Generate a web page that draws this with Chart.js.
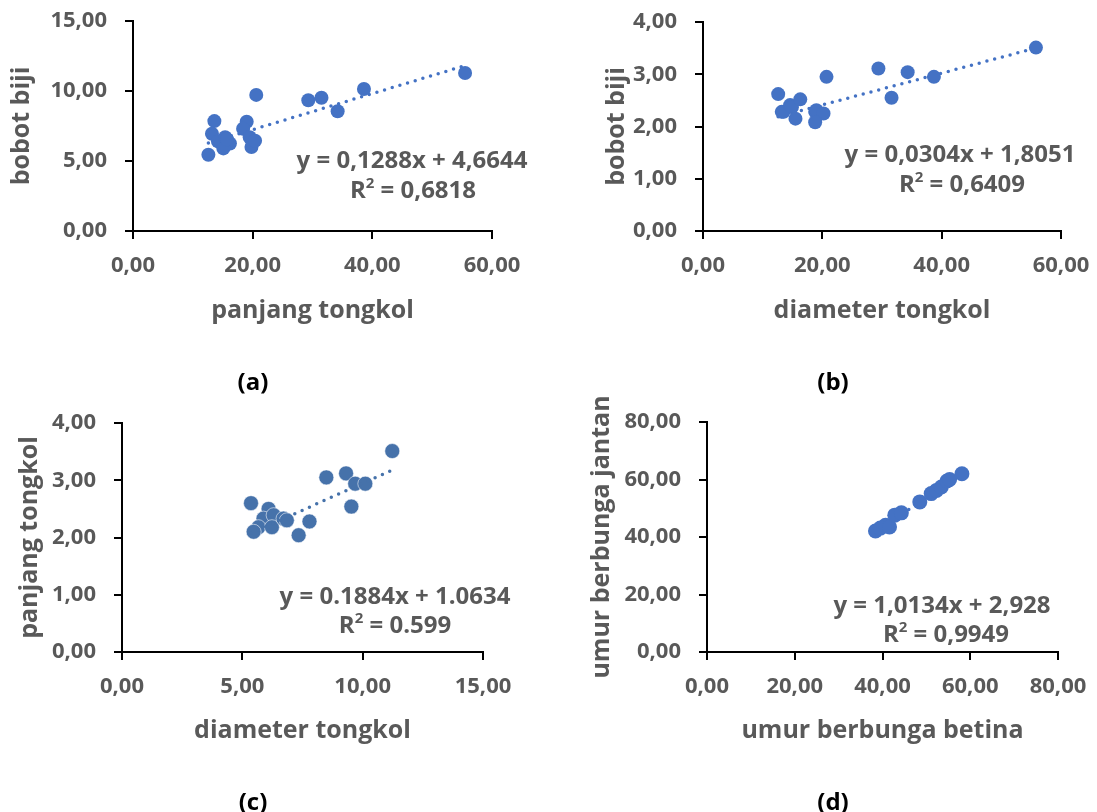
<!DOCTYPE html>
<html>
<head>
<meta charset="utf-8">
<script src="https://cdn.jsdelivr.net/npm/chart.js@4.4.1/dist/chart.umd.min.js"></script>
<style>
  html, body { margin:0; padding:0; background:#fff; }
  #wrap { position:relative; width:1097px; height:812px; overflow:hidden; background:#fff; }
  .pane { position:absolute; }
  .txt { position:absolute; transform:translate(-50%,-50%); white-space:nowrap;
         font-family:'Open Sans','Noto Sans',sans-serif; font-weight:700; }
  .eq { font-size:24px; color:#595959; }
  .cap { font-size:24px; color:#000; }
  sup { font-size:15px; vertical-align:10px; line-height:0; }
</style>
</head>
<body>
<div id="wrap">
  <div class="pane" style="left:0;top:0;"><canvas id="ca" width="548" height="340"></canvas></div>
  <div class="pane" style="left:549px;top:0;"><canvas id="cb" width="548" height="340"></canvas></div>
  <div class="pane" style="left:0;top:380px;"><canvas id="cc" width="548" height="420"></canvas></div>
  <div class="pane" style="left:549px;top:380px;"><canvas id="cd" width="548" height="420"></canvas></div>

  <div class="txt eq" style="left:412px;top:158px;">y = 0,1288x + 4,6644</div>
  <div class="txt eq" style="left:413px;top:188px;">R<sup>2</sup> = 0,6818</div>
  <div class="txt eq" style="left:960px;top:152px;">y = 0,0304x + 1,8051</div>
  <div class="txt eq" style="left:962px;top:182px;">R<sup>2</sup> = 0,6409</div>
  <div class="txt eq" style="left:395px;top:594px;">y = 0.1884x + 1.0634</div>
  <div class="txt eq" style="left:395px;top:623px;">R<sup>2</sup> = 0.599</div>
  <div class="txt eq" style="left:942px;top:603px;">y = 1,0134x + 2,928</div>
  <div class="txt eq" style="left:946px;top:632px;">R<sup>2</sup> = 0,9949</div>

  <div class="txt cap" style="left:253px;top:380px;">(a)</div>
  <div class="txt cap" style="left:833px;top:380px;">(b)</div>
  <div class="txt cap" style="left:253px;top:800px;">(c)</div>
  <div class="txt cap" style="left:833px;top:800px;">(d)</div>
</div>
<script>
// ---- data ----
// (a) panjang tongkol vs bobot biji
const aX = [12.6, 13.6, 13.2, 14.2, 15.4, 16.2, 15.1, 15.7, 19.0, 18.4, 19.5, 19.8, 20.4, 20.6, 29.3, 31.5, 34.2, 38.6, 55.5];
const aY = [5.45, 7.85, 6.95, 6.40, 6.70, 6.25, 5.90, 6.55, 7.80, 7.30, 6.70, 6.00, 6.45, 9.72, 9.34, 9.52, 8.55, 10.14, 11.29];
const aFit = [0.1288, 4.6644];
// (b) diameter tongkol vs bobot biji
const bX = [12.6, 13.2, 13.5, 14.6, 14.9, 15.5, 16.3, 18.8, 19.0, 20.2, 18.8, 20.7, 29.4, 31.6, 34.3, 38.7, 55.8];
const bY = [2.62, 2.28, 2.28, 2.41, 2.37, 2.15, 2.52, 2.28, 2.31, 2.25, 2.08, 2.95, 3.11, 2.55, 3.04, 2.95, 3.51];
const bFit = [0.0304, 1.8051];
// (c) diameter tongkol vs panjang tongkol
const cX = [5.36, 6.09, 5.88, 6.30, 5.67, 5.47, 6.23, 6.71, 6.85, 7.34, 7.79, 8.49, 9.31, 9.69, 10.11, 9.53, 11.23];
const cY = [2.60, 2.50, 2.33, 2.39, 2.18, 2.10, 2.18, 2.33, 2.30, 2.04, 2.28, 3.05, 3.12, 2.94, 2.94, 2.54, 3.51];
const cFit = [0.1884, 1.0634];
// (d) umur berbunga betina vs umur berbunga jantan
const dX = [38.4, 39.5, 40.7, 41.6, 42.8, 44.3, 48.5, 51.1, 52.3, 53.4, 54.7, 55.3, 58.1];
const dY = [42.1, 43.1, 44.1, 43.5, 47.6, 48.4, 52.2, 55.1, 56.2, 57.4, 59.5, 60.0, 62.0];
const dFit = [1.0134, 2.928];
// axis ranges [min, max, step]
const aXAxis = [0, 60, 20], aYAxis = [0, 15, 5];
const bXAxis = [0, 60, 20], bYAxis = [0, 4, 1];
const cXAxis = [0, 15, 5],  cYAxis = [0, 4, 1];
const dXAxis = [0, 80, 20], dYAxis = [0, 80, 20];

const FONT = "'Open Sans','Noto Sans',sans-serif";
const GREY = '#595959';

function fmtComma(v){ return Number(v).toFixed(2).replace('.', ','); }

function build(id, xs, ys, fit, xr, yr, o) {
  const pts = xs.map((x, i) => ({x: x, y: ys[i]}));
  const x0 = Math.min(...xs), x1 = Math.max(...xs);
  const trend = [{x: x0, y: fit[0]*x0 + fit[1]}, {x: x1, y: fit[0]*x1 + fit[1]}];
  const canvas = document.getElementById(id);
  const W = canvas.width, H = canvas.height;
  const axisCommon = {
    border: {display: true, color: '#000', width: 2},
    grid: {display: true, drawOnChartArea: false, drawTicks: true, tickLength: 8, color: '#000', lineWidth: 2},
  };
  new Chart(canvas, {
    type: 'scatter',
    data: {
      datasets: [
        {type: 'scatter', data: pts, backgroundColor: o.color, borderColor: o.edge || o.color,
         borderWidth: o.edgeW || 0, pointRadius: o.r, pointHoverRadius: o.r, order: o.trendOnTop ? 1 : 0},
        {type: 'line', data: trend, borderColor: o.trendColor || o.color, borderWidth: 3.5,
         borderDash: [0, 8], borderCapStyle: 'round', pointRadius: 0, fill: false, order: o.trendOnTop ? 0 : 1}
      ]
    },
    options: {
      responsive: false, animation: false, events: [], devicePixelRatio: 1,
      layout: {padding: {left: 0, top: o.area.t, right: W - o.area.r, bottom: 0}},
      plugins: {legend: {display: false}, tooltip: {enabled: false}},
      scales: {
        x: Object.assign({}, axisCommon, {
          type: 'linear', min: xr[0], max: xr[1],
          ticks: {stepSize: xr[2], padding: 14, color: GREY, maxRotation: 0, autoSkip: false,
                  font: {family: FONT, size: 22, weight: 'bold'}, callback: o.fmt},
          title: {display: true, text: o.xTitle, color: GREY, padding: {top: 0, bottom: o.xTitlePad},
                  font: {family: FONT, size: 25, weight: 'bold'}},
          afterFit: (s) => { s.height = H - o.area.b; s.paddingLeft = 0; s.paddingRight = 0; }
        }),
        y: Object.assign({}, axisCommon, {
          type: 'linear', min: yr[0], max: yr[1],
          ticks: {stepSize: yr[2], padding: 18, color: GREY, autoSkip: false,
                  font: {family: FONT, size: 22, weight: 'bold'}, callback: o.fmt},
          title: {display: true, text: o.yTitle, color: GREY, padding: {top: o.yTitlePad, bottom: 0},
                  font: {family: FONT, size: 25, weight: 'bold'}},
          afterFit: (s) => { s.width = o.area.l; s.paddingTop = 0; s.paddingBottom = 0; }
        })
      }
    }
  });
}

build('ca', aX, aY, aFit, aXAxis, aYAxis, {
  color: '#4472C4', r: 7, area: {l: 133, t: 21, r: 492, b: 231}, fmt: fmtComma,
  xTitle: 'panjang tongkol', xTitlePad: 14, yTitle: 'bobot biji', yTitlePad: 7
});
build('cb', bX, bY, bFit, bXAxis, bYAxis, {
  color: '#4472C4', r: 7, area: {l: 154, t: 22, r: 512, b: 231}, fmt: fmtComma,
  xTitle: 'diameter tongkol', xTitlePad: 14, yTitle: 'bobot biji', yTitlePad: 53
});
build('cc', cX, cY, cFit, cXAxis, cYAxis, {
  color: '#4672AA', edge: 'rgba(255,255,255,0.55)', edgeW: 1, r: 7.5, trendOnTop: true,
  area: {l: 122, t: 43, r: 483, b: 272}, fmt: fmtComma,
  xTitle: 'diameter tongkol', xTitlePad: 54, yTitle: 'panjang tongkol', yTitlePad: 15
});
build('cd', dX, dY, dFit, dXAxis, dYAxis, {
  color: '#4472C4', r: 7.5, area: {l: 158, t: 42, r: 509, b: 272}, fmt: fmtComma,
  xTitle: 'umur berbunga betina', xTitlePad: 54, yTitle: 'umur berbunga jantan', yTitlePad: 38
});
</script>
</body>
</html>
